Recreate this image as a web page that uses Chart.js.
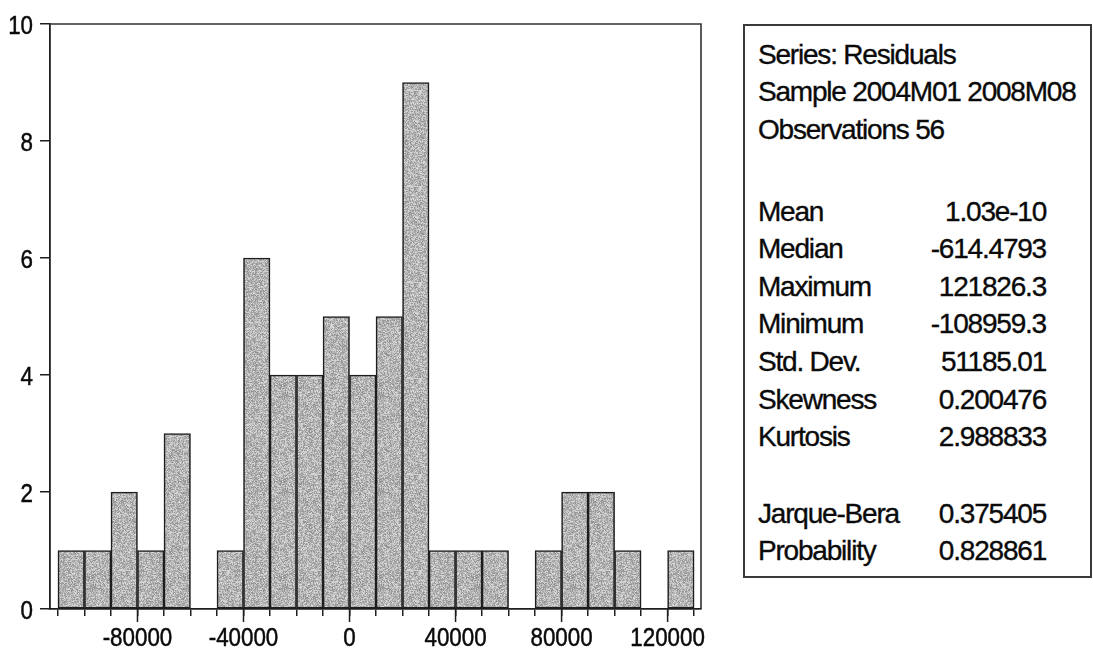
<!DOCTYPE html>
<html>
<head>
<meta charset="utf-8">
<title>Residuals histogram</title>
<script src="https://cdn.jsdelivr.net/npm/chart.js@4.4.1/dist/chart.umd.min.js"></script>
<style>
  html, body { margin: 0; padding: 0; background: #ffffff; }
  #wrap { position: relative; width: 1093px; height: 653px; overflow: hidden; background: #ffffff; }
  #hist { position: absolute; left: 0; top: 0; }
  #stats {
    position: absolute; left: 743px; top: 24px; width: 349px; height: 554px;
    box-sizing: border-box; border: 2px solid #3a3a3a; background: #ffffff;
    padding: 9.6px 44px 0 13px;
    font-family: 'Liberation Sans', Arial, sans-serif; font-size: 28px;
    letter-spacing: -1.2px; color: #0a0a0a; line-height: 37.6px;
    -webkit-text-stroke: 0.35px #0a0a0a;
  }
  #stats .row { display: flex; justify-content: space-between; white-space: nowrap; }
  #stats .gap1 { height: 44.2px; }
  #stats .gap2 { height: 38.8px; }
</style>
</head>
<body>
<div id="wrap">
  <canvas id="hist" width="1093" height="653"></canvas>
  <div id="stats"></div>
</div>
<script>
// Histogram bins (lower edge of each 10000-wide bin) and observation counts
const binLower = [-110000, -100000, -90000, -80000, -70000, -60000, -50000, -40000,
                  -30000, -20000, -10000, 0, 10000, 20000, 30000, 40000,
                  50000, 60000, 70000, 80000, 90000, 100000, 110000, 120000];
const counts   = [1, 1, 2, 1, 3, 0, 1, 6,
                  4, 4, 5, 4, 5, 9, 1, 1,
                  1, 0, 1, 2, 2, 1, 0, 1];
const binWidth = 10000;

// Axis ranges and labelled ticks
const xRange = [-113000, 132600];
const xTickLabels = [-80000, -40000, 0, 40000, 80000, 120000];
const yRange = [0, 10];
const yStep = 2;

// Descriptive statistics panel
const headerLines = ['Series: Residuals', 'Sample 2004M01 2008M08', 'Observations 56'];
const statNames  = ['Mean', 'Median', 'Maximum', 'Minimum', 'Std. Dev.', 'Skewness', 'Kurtosis'];
const statValues = ['1.03e-10', '-614.4793', '121826.3', '-108959.3', '51185.01', '0.200476', '2.988833'];
const testNames  = ['Jarque-Bera', 'Probability'];
const testValues = ['0.375405', '0.828861'];

// ---- statistics panel ----
(function buildStats() {
  const box = document.getElementById('stats');
  const addRow = (l, r) => {
    const d = document.createElement('div');
    d.className = 'row';
    const a = document.createElement('span'); a.textContent = l; d.appendChild(a);
    if (r !== undefined) { const b = document.createElement('span'); b.textContent = r; d.appendChild(b); }
    box.appendChild(d);
  };
  const addGap = (cls) => { const g = document.createElement('div'); g.className = cls; box.appendChild(g); };
  headerLines.forEach(h => addRow(h));
  addGap('gap1');
  statNames.forEach((n, i) => addRow(n, statValues[i]));
  addGap('gap2');
  testNames.forEach((n, i) => addRow(n, testValues[i]));
})();

// ---- stippled grey fill for the bars ----
function stipple() {
  const c = document.createElement('canvas');
  c.width = 96; c.height = 96;
  const g = c.getContext('2d');
  const img = g.createImageData(96, 96);
  let s = 1234567;
  for (let i = 0; i < 96 * 96; i++) {
    s = (s * 1103515245 + 12345) & 0x7fffffff;
    const n = (s >> 8) & 255;
    const v = 142 + Math.round(n * 78 / 255);
    img.data[i * 4] = v; img.data[i * 4 + 1] = v; img.data[i * 4 + 2] = v; img.data[i * 4 + 3] = 255;
  }
  g.putImageData(img, 0, 0);
  return g.createPattern(c, 'repeat');
}

const ink = '#1e1e1e';
const labelFont = "26px 'Liberation Sans', Arial, sans-serif";
const condense = 0.86;   // horizontal squeeze of axis lettering

// draws one horizontally condensed label; anchor = center (x axis) or right edge (y axis)
function squeezedText(ctx, text, x, baseline, align) {
  ctx.save();
  ctx.translate(x, baseline);
  ctx.scale(condense, 1);
  ctx.textAlign = align;
  ctx.textBaseline = 'alphabetic';
  ctx.fillText(text, 0, 0);
  ctx.strokeText(text, 0, 0);
  ctx.restore();
}

// frame (top/right edges), longer major x ticks and the axis tick labels
const framePlugin = {
  id: 'frame',
  afterDraw(chart) {
    const { ctx, chartArea: a, scales } = chart;
    ctx.save();
    ctx.strokeStyle = '#333333';
    ctx.lineWidth = 1.6;
    ctx.beginPath();
    ctx.moveTo(a.left, a.top); ctx.lineTo(a.right, a.top); ctx.lineTo(a.right, a.bottom);
    ctx.stroke();

    ctx.strokeStyle = ink;
    ctx.lineWidth = 1.5;
    ctx.beginPath();
    xTickLabels.forEach(v => {
      const px = scales.x.getPixelForValue(v);
      ctx.moveTo(px, a.bottom); ctx.lineTo(px, a.bottom + 13);
    });
    ctx.stroke();

    ctx.fillStyle = '#0a0a0a';
    ctx.strokeStyle = '#0a0a0a';
    ctx.lineWidth = 0.5;
    ctx.font = labelFont;
    scales.x.ticks.forEach(t => {
      if (!xTickLabels.includes(t.value)) return;
      squeezedText(ctx, String(t.value), scales.x.getPixelForValue(t.value), a.bottom + 37, 'center');
    });
    scales.y.ticks.forEach(t => {
      const py = scales.y.getPixelForValue(t.value);
      squeezedText(ctx, String(t.value), scales.y.right - 10 - 7, py + 9.5, 'right');
    });
    ctx.restore();
  }
};

const ctx = document.getElementById('hist').getContext('2d');
new Chart(ctx, {
  type: 'bar',
  data: {
    datasets: [{
      data: binLower.map((lo, i) => ({ x: lo + binWidth / 2, y: counts[i] })),
      backgroundColor: stipple(),
      borderColor: ink,
      borderWidth: 1.6,
      borderSkipped: false,
      barPercentage: 1,
      categoryPercentage: 1
    }]
  },
  options: {
    responsive: false,
    animation: false,
    events: [],
    layout: { padding: { top: 24, right: 392, left: 0, bottom: 0 } },
    plugins: { legend: { display: false }, tooltip: { enabled: false } },
    scales: {
      x: {
        type: 'linear',
        min: xRange[0], max: xRange[1],
        offset: false,
        grid: { offset: false, drawOnChartArea: false, drawTicks: true, tickLength: 7, color: ink, lineWidth: 1.5 },
        border: { display: true, color: ink, width: 1.8 },
        afterBuildTicks: s => {
          s.ticks = binLower.concat([binLower[binLower.length - 1] + binWidth]).map(v => ({ value: v }));
        },
        afterFit: s => { s.height = 44; },
        ticks: { display: false, autoSkip: false, maxRotation: 0, minRotation: 0 }
      },
      y: {
        min: yRange[0], max: yRange[1],
        grid: { drawOnChartArea: false, drawTicks: true, tickLength: 10, color: ink, lineWidth: 1.5 },
        border: { display: true, color: ink, width: 1.8 },
        afterFit: s => { s.width = 50; },
        ticks: { display: false, stepSize: yStep }
      }
    }
  },
  plugins: [framePlugin]
});
</script>
</body>
</html>
